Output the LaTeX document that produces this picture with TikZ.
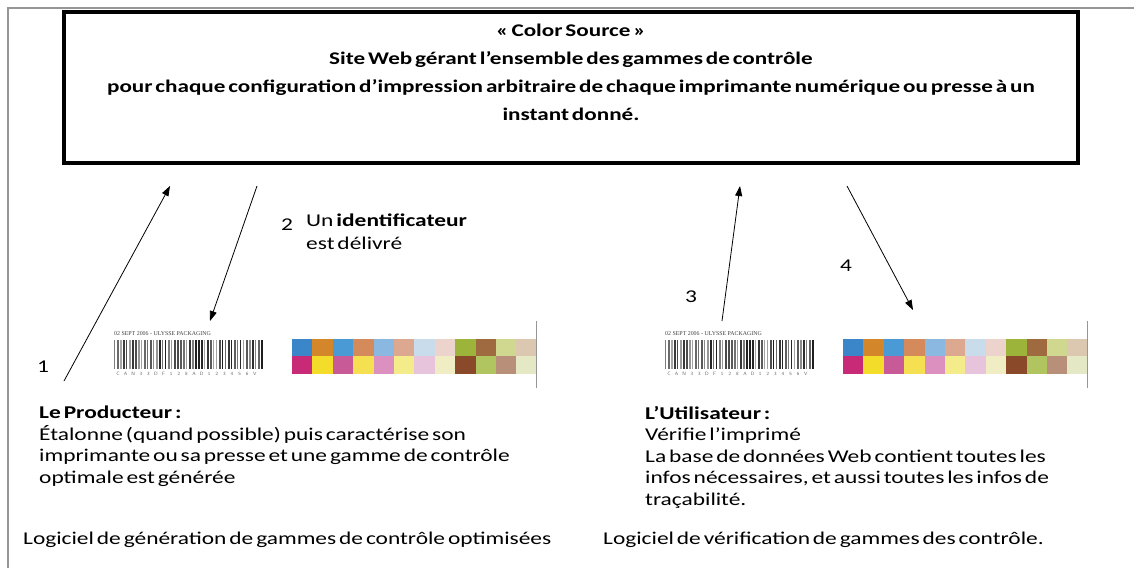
\documentclass[tikz,border=0pt]{standalone}
\usepackage{fontspec}
\setmainfont{Carlito}[FakeStretch=1.3, WordSpace=0.55]
\newfontfamily\bcfont{Liberation Serif}
\usetikzlibrary{arrows.meta}
\definecolor{frameg}{RGB}{150,150,150}
\definecolor{pa1}{RGB}{58,134,200}
\definecolor{pa2}{RGB}{212,134,42}
\definecolor{pa3}{RGB}{74,154,214}
\definecolor{pa4}{RGB}{212,138,90}
\definecolor{pa5}{RGB}{138,184,224}
\definecolor{pa6}{RGB}{220,168,144}
\definecolor{pa7}{RGB}{200,220,236}
\definecolor{pa8}{RGB}{236,212,204}
\definecolor{pa9}{RGB}{156,180,58}
\definecolor{pa10}{RGB}{160,106,64}
\definecolor{pa11}{RGB}{208,216,144}
\definecolor{pa12}{RGB}{220,200,176}
\definecolor{pb1}{RGB}{200,42,120}
\definecolor{pb2}{RGB}{244,220,42}
\definecolor{pb3}{RGB}{200,90,152}
\definecolor{pb4}{RGB}{244,224,80}
\definecolor{pb5}{RGB}{220,144,192}
\definecolor{pb6}{RGB}{244,236,138}
\definecolor{pb7}{RGB}{232,196,220}
\definecolor{pb8}{RGB}{240,236,196}
\definecolor{pb9}{RGB}{138,74,42}
\definecolor{pb10}{RGB}{176,196,96}
\definecolor{pb11}{RGB}{184,144,122}
\definecolor{pb12}{RGB}{228,232,196}
\newcommand\drawbarcode[1]{%
  \begin{scope}[shift={#1}]
    \pgfmathsetseed{4242}
    \node[bctxt, anchor=west] at (0,3) {02 SEPT 2006 - ULYSSE PACKAGING};
    \foreach \i in {0,...,49}{
      \pgfmathrandominteger{\w}{1}{3}
      \pgfmathrandominteger{\g}{35}{90}
      \fill[black!\g] ({\i*3},9) rectangle ({\i*3+\w*0.75},38);
    }
    \foreach \c [count=\k from 0] in {C,A,N,3,3,D,F,1,2,8,A,D,1,2,3,4,5,6,V}{
      \node[bcdig] at ({4+\k*7.6},42.5) {\c};
    }
  \end{scope}}
\newcommand\drawpatches[1]{%
  \begin{scope}[shift={#1}]
    \foreach \k in {1,...,12}{
      \fill[pa\k] ({(\k-1)*20.4},0) rectangle ({\k*20.4},16.5);
      \fill[pb\k] ({(\k-1)*20.4},16.5) rectangle ({\k*20.4},35);
    }
    \draw[frameg, line width=1pt] (244.5,-18) -- (244.5,49);
  \end{scope}}
\begin{document}
\begin{tikzpicture}[x=1pt,y=-1pt,
  txt/.style={font=\fontsize{18}{21.5}\selectfont, inner sep=0pt, anchor=north west, align=left},
  num/.style={font=\fontsize{18}{21.5}\selectfont, inner sep=0pt},
  ttl/.style={font=\bfseries\fontsize{17.8}{28}\selectfont, inner sep=0pt, align=center},
  bctxt/.style={font=\bcfont\fontsize{5.9}{6}\selectfont, text=black!75, inner sep=0pt},
  bcdig/.style={font=\sffamily\fontsize{4.8}{5}\selectfont, text=black!60, inner sep=0pt},
  arr/.style={line width=0.8pt, -{Triangle[length=10pt,width=7pt]}}]
\useasboundingbox (0,0) rectangle (1134,568);
\draw[frameg, line width=1.2pt] (8,568) -- (8,8) -- (1134,8);
\node[draw, line width=4.5pt, minimum width=1014pt, minimum height=151pt, inner sep=0pt] (site) at (571,87.5) {};
\node[ttl] (title) at (571,72) {« Color Source »\\Site Web gérant l’ensemble des gammes de contrôle\\pour chaque configuration d’impression arbitraire de chaque imprimante numérique ou presse à un\\instant donné.};
\coordinate (a1s) at (64,381);
\coordinate (a1e) at (170,186);
\coordinate (a2s) at (257,186);
\coordinate (a2e) at (210,321);
\coordinate (a3s) at (722,321);
\coordinate (a3e) at (740,186);
\coordinate (a4s) at (847,186);
\coordinate (a4e) at (913,310);
\draw[arr] (a1s) -- (a1e);
\draw[arr] (a2s) -- (a2e);
\draw[arr] (a3s) -- (a3e);
\draw[arr] (a4s) -- (a4e);
\node[num] (n1) at (43,367) {1};
\node[num] (n2) at (287,225) {2};
\node[num] (n3) at (691,297) {3};
\node[num] (n4) at (846,266) {4};
\node[txt, font=\fontsize{18}{23}\selectfont] (ident) at (306,214) {Un \textbf{identificateur}\\est délivré};
\drawbarcode{(114,331)}
\drawbarcode{(665,331)}
\drawpatches{(292,339)}
\drawpatches{(843,339)}
\node[txt] (prod) at (39,406) {\textbf{Le Producteur :}\\Étalonne (quand possible)\hspace{3pt}puis caractérise son\\imprimante ou sa presse et une gamme de contrôle\\optimale est générée};
\node[txt] (util) at (645,406) {\textbf{L’Utilisateur :}\\Vérifie l’imprimé\\La base de données Web contient toutes les\\infos nécessaires, et aussi toutes les infos de\\traçabilité.};
\node[txt] (log1) at (23,532) {Logiciel de génération de gammes de contrôle optimisées};
\node[txt] (log2) at (603,532) {Logiciel de vérification de gammes des contrôle.};
\end{tikzpicture}
\end{document}
